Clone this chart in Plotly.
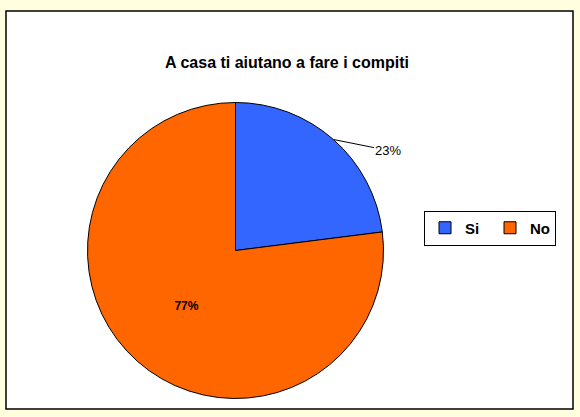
import math
import plotly.graph_objects as go

# dati del grafico
etichette = ["Si", "No"]
valori = [23, 77]
colori = ["#3366FF", "#FF6600"]

W, H = 580, 417
CX, CY, R = 235.5, 250.5, 148  # centro e raggio della torta in pixel

fig = go.Figure()

fig.add_trace(go.Pie(
    labels=etichette,
    values=valori,
    sort=False,
    direction="clockwise",
    rotation=0,
    marker=dict(colors=colori, line=dict(color="#000000", width=1)),
    texttemplate=["", "<b>%{percent:.0%}</b>"],
    textposition="inside",
    insidetextorientation="horizontal",
    textfont=dict(family="Liberation Sans, Arial", size=12, color="#000000"),
    domain=dict(x=[(CX - R) / W, (CX + R) / W], y=[(H - CY - R) / H, (H - CY + R) / H]),
    hoverinfo="label+percent",
))

# etichetta esterna con linea guida per "Si"
tot = sum(valori)
ang = math.radians(90 - 360 * valori[0] / tot / 2)
fig.add_annotation(
    xref="paper", yref="paper",
    x=(CX + R * math.cos(ang)) / W, y=(H - CY + R * math.sin(ang)) / H,
    text=f"{round(100 * valori[0] / tot)}%",
    showarrow=True, arrowhead=0, arrowwidth=1, arrowcolor="#000000",
    ax=55, ay=11, standoff=0,
    font=dict(family="Liberation Sans, Arial", size=13, color="#000000"),
)

# riquadro bianco del grafico
fig.add_shape(
    type="rect", xref="paper", yref="paper",
    x0=6 / W, x1=573 / W, y0=1 - 409 / H, y1=1 - 11 / H,
    line=dict(color="#000000", width=1.5),
    fillcolor="#FFFFFF", layer="below",
)

fig.update_layout(
    width=W, height=H,
    margin=dict(l=0, r=0, t=0, b=0),
    paper_bgcolor="#FFFFE0",
    plot_bgcolor="#FFFFFF",
    font=dict(family="Liberation Sans, Arial", size=12, color="#000000"),
    title=dict(
        text="<b>A casa ti aiutano a fare i compiti</b>",
        x=287 / W, xanchor="center",
        y=1 - 62 / H, yanchor="middle",
        font=dict(size=16),
    ),
    showlegend=True,
    legend=dict(
        orientation="h",
        x=490 / W, xanchor="center",
        y=1 - 228 / H, yanchor="middle",
        bordercolor="#000000", borderwidth=1,
        bgcolor="#FFFFFF",
        font=dict(size=15, family="Liberation Sans, Arial", weight="bold"),
        itemwidth=30,
        entrywidth=20,
        traceorder="normal",
    ),
)

fig.write_html("out.html", config={"displayModeBar": False},
               post_script="document.body.style.margin='0';")
